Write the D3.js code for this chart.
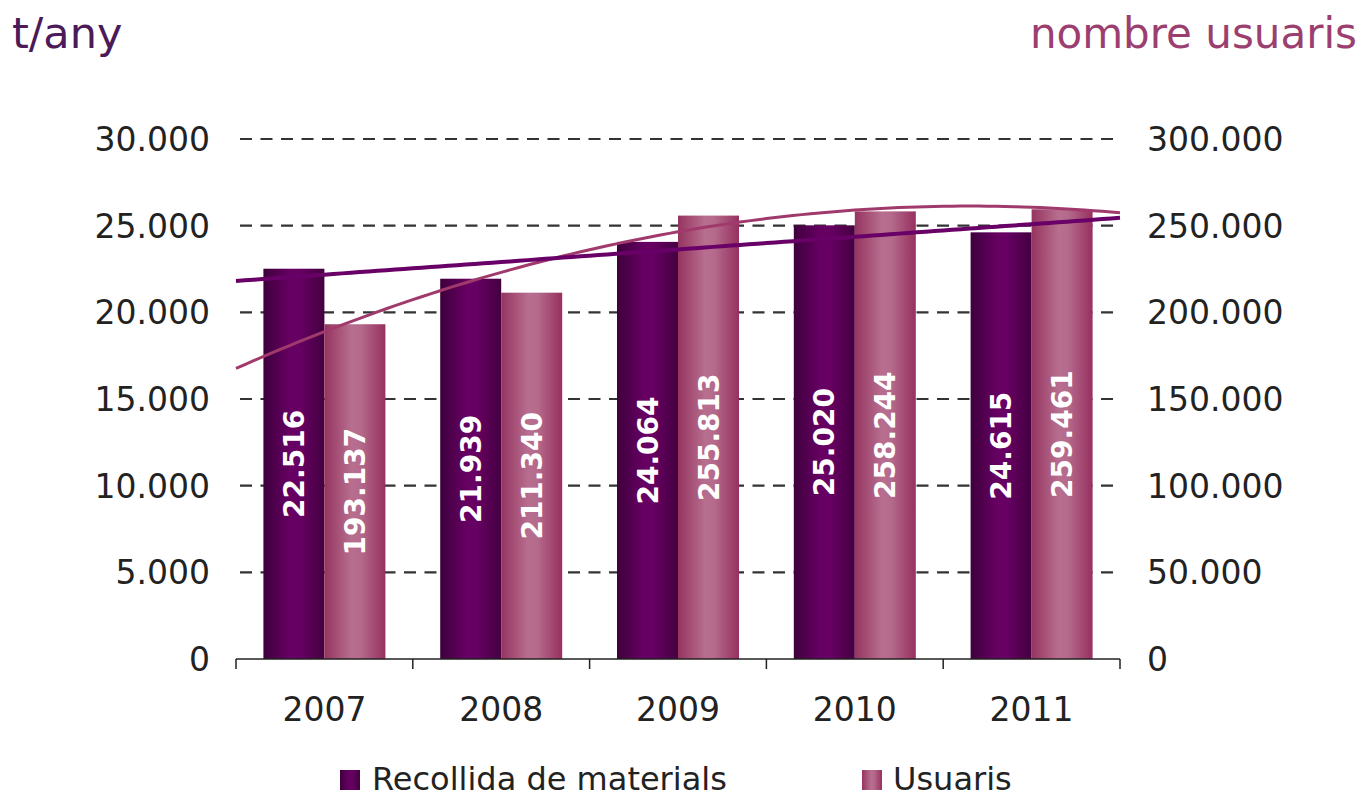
<!DOCTYPE html>
<html><head><meta charset="utf-8">
<script src="https://cdn.jsdelivr.net/npm/d3@7"></script>
<style>body{margin:0;background:#fff}svg{display:block}text{font-family:"DejaVu Sans",Verdana,sans-serif}</style>
</head><body><svg id="c" width="1364" height="798"></svg>
<script>
const years = ["2007","2008","2009","2010","2011"];
const recollida = [22516, 21939, 24064, 25020, 24615];
const usuaris = [193137, 211340, 255813, 258244, 259461];
const leftTicks = [0,5000,10000,15000,20000,25000,30000];
const rightTicks = [0,50000,100000,150000,200000,250000,300000];
const seriesNames = ["Recollida de materials","Usuaris"];

const svg = d3.select("#c");
const L=236, R=1120, T=139, B=659;
const fmt = v => d3.format(",")(v).replace(/,/g,".");
const x = d3.scaleBand().domain(years).range([L,R]);
const xc = d3.scaleLinear().domain([0.5,5.5]).range([L,R]);
const yL = d3.scaleLinear().domain([0,30000]).range([B,T]);
const yR = d3.scaleLinear().domain([0,300000]).range([B,T]);

const defs = svg.append("defs");
function grad(id, stops){
  const g = defs.append("linearGradient").attr("id",id).attr("x1","0%").attr("x2","100%").attr("y1","0%").attr("y2","0%");
  stops.forEach(s=>g.append("stop").attr("offset",s[0]).attr("stop-color",s[1]));
}
grad("gDark",[["0%","#3e003c"],["45%","#680064"],["60%","#660062"],["100%","#440040"]]);
grad("gPink",[["0%","#953460"],["45%","#b86f8f"],["60%","#b46a8b"],["100%","#973060"]]);

// gridlines
svg.append("g").selectAll("line").data(leftTicks.filter(d=>d>0)).join("line")
  .attr("x1",L+4).attr("x2",R).attr("y1",d=>yL(d)).attr("y2",d=>yL(d))
  .attr("stroke","#333").attr("stroke-width",2.2).attr("stroke-dasharray","12,8.5");

// axes labels
svg.append("g").selectAll("text").data(leftTicks).join("text")
  .attr("x",210).attr("y",d=>yL(d)).attr("dy","0.36em").attr("text-anchor","end")
  .attr("font-size",33).attr("fill","#222").text(fmt);
svg.append("g").selectAll("text").data(rightTicks).join("text")
  .attr("x",1147).attr("y",d=>yR(d)).attr("dy","0.36em").attr("text-anchor","start")
  .attr("font-size",33).attr("fill","#222").text(fmt);

// bars
const bw = x.bandwidth()*0.345;
const bars = svg.append("g");
years.forEach((yr,i)=>{
  const cx = x(yr)+x.bandwidth()/2;
  bars.append("rect").attr("x",cx-bw).attr("width",bw).attr("y",yL(recollida[i])).attr("height",B-yL(recollida[i])).attr("fill","url(#gDark)");
  bars.append("rect").attr("x",cx).attr("width",bw).attr("y",yR(usuaris[i])).attr("height",B-yR(usuaris[i])).attr("fill","url(#gPink)");
});

// trendlines (least squares, like spreadsheet trendlines)
const xs = years.map((d,i)=>i+1);
function linFit(ys){
  const mx=d3.mean(xs), my=d3.mean(ys);
  const b=d3.sum(xs.map((v,i)=>(v-mx)*(ys[i]-my)))/d3.sum(xs.map(v=>(v-mx)*(v-mx)));
  return t=>my+b*(t-mx);
}
function polyFit(ys){
  const mx=d3.mean(xs); const ts=xs.map(v=>v-mx);
  const S2=d3.sum(ts.map(t=>t*t)), S4=d3.sum(ts.map(t=>t**4));
  const b=d3.sum(ts.map((t,i)=>t*ys[i]))/S2;
  const Sy=d3.sum(ys), S2y=d3.sum(ts.map((t,i)=>t*t*ys[i])), n=ys.length;
  const c=(S2y - S2*Sy/n)/(S4 - S2*S2/n); const a=(Sy - c*S2)/n;
  return t=>a+b*(t-mx)+c*(t-mx)*(t-mx);
}
const fL=linFit(recollida), fP=polyFit(usuaris);
const samples=d3.range(0.5,5.5001,0.05);
svg.append("path").attr("d",d3.line().x(t=>xc(t)).y(t=>yR(fP(t)))(samples))
  .attr("fill","none").attr("stroke","#a13a6c").attr("stroke-width",3);
svg.append("path").attr("d",d3.line().x(t=>xc(t)).y(t=>yL(fL(t)))(samples))
  .attr("fill","none").attr("stroke","#680068").attr("stroke-width",4);

// bar labels
years.forEach((yr,i)=>{
  const cx = x(yr)+x.bandwidth()/2;
  const y1=(yL(recollida[i])+B)/2, y2=(yR(usuaris[i])+B)/2;
  svg.append("text").attr("transform",`translate(${cx-bw/2},${y1}) rotate(-90)`).attr("text-anchor","middle").attr("dy","0.36em")
    .attr("font-size",28).attr("font-weight","bold").attr("fill","#fff").text(fmt(recollida[i]));
  svg.append("text").attr("transform",`translate(${cx+bw/2},${y2}) rotate(-90)`).attr("text-anchor","middle").attr("dy","0.36em")
    .attr("font-size",28).attr("font-weight","bold").attr("fill","#fff").text(fmt(usuaris[i]));
});

// x axis
const xa = svg.append("g");
xa.append("line").attr("x1",L).attr("x2",R).attr("y1",B).attr("y2",B).attr("stroke","#222").attr("stroke-width",1.5);
xa.selectAll("line.t").data(years.map(d=>x(d)).concat([R])).join("line").attr("class","t")
  .attr("x1",d=>d).attr("x2",d=>d).attr("y1",B).attr("y2",B+10).attr("stroke","#222").attr("stroke-width",1.5);
xa.selectAll("text").data(years).join("text").attr("x",d=>x(d)+x.bandwidth()/2).attr("y",721)
  .attr("text-anchor","middle").attr("font-size",33).attr("fill","#222").text(d=>d);

// titles
svg.append("text").attr("x",12).attr("y",48).attr("font-size",43).attr("fill","#4b1a58").text("t/any");
svg.append("text").attr("x",1357).attr("y",48).attr("text-anchor","end").attr("font-size",42).attr("fill","#9b3e70").text("nombre usuaris");

// legend
const lg = svg.append("g");
[[340,"url(#gDark)",372],[862,"url(#gPink)",893]].forEach((p,i)=>{
  lg.append("rect").attr("x",p[0]).attr("y",770).attr("width",20).attr("height",20).attr("fill",p[1]);
  lg.append("text").attr("x",p[2]).attr("y",790).attr("font-size",32).attr("fill","#222").text(seriesNames[i]);
});
</script></body></html>
